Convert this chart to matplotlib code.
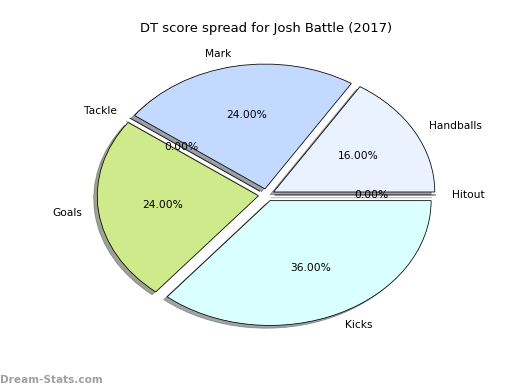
import matplotlib.pyplot as plt

labels = ["Handballs", "Mark", "Tackle", "Goals", "Kicks", "Hitout"]
values = [16, 24, 0, 24, 36, 0]
colors = ["#eaf1ff", "#c4d9ff", "#ffd9d9", "#cfea8a", "#d9ffff", "#ffffcc"]
explode = [0.05, 0.05, 0.05, 0.05, 0.05, 0.05]

fig = plt.figure(figsize=(6.5, 4.875), dpi=80)
ax = fig.add_axes([0.125, 0.1, 0.775, 0.8])

wedges, texts, autotexts = ax.pie(
    values, labels=labels, colors=colors, explode=explode,
    autopct='%1.2f%%', shadow=True, startangle=0,
    wedgeprops={'edgecolor': 'black', 'linewidth': 0.7},
    textprops={'fontsize': 9.6},
)
ax.set_aspect('auto')
ax.set_xlim(-1.25, 1.25)
ax.set_ylim(-1.25, 1.25)
ax.set_title("DT score spread for Josh Battle (2017)", fontsize=11.8)

fig.text(0.0, 0.013, "Dream-Stats.com", color="#a0a0a0", fontsize=9.5,
         fontweight='bold', ha='left', va='bottom')

plt.savefig("out.png", dpi=80)
